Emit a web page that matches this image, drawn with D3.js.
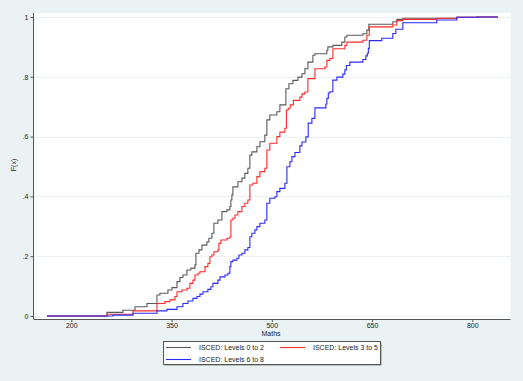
<!DOCTYPE html>
<html>
<head>
<meta charset="utf-8">
<style>
  body { margin: 0; background: #eaf2f3; }
  text { font-family: "Liberation Sans", Arial, sans-serif; fill: #222; }
  .tick text { font-size: 7px; }
  .tick line { stroke: #555; }
  .domain { stroke: #555; }
</style>
</head>
<body>
<script src="https://d3js.org/d3.v7.min.js"></script>
<script>
// step points: score where the step happens, new F(x)
var low = [
  [163.7, 0], [253.4, 0.012], [277.3, 0.019], [295.3, 0.031], [313.2, 0.042], [328.2, 0.070],
  [332.7, 0.076], [344.6, 0.087], [350.6, 0.095], [358.1, 0.115], [362.6, 0.129], [367.0, 0.137],
  [373.0, 0.154], [379.0, 0.160], [385.0, 0.171], [386.5, 0.210], [391.0, 0.221], [395.5, 0.237],
  [402.9, 0.248], [405.9, 0.260], [410.4, 0.277], [413.4, 0.310], [419.4, 0.321], [425.4, 0.349],
  [432.8, 0.355], [437.3, 0.366], [438.8, 0.388], [440.3, 0.405], [441.8, 0.432], [449.3, 0.449],
  [455.3, 0.461], [459.7, 0.477], [464.2, 0.494], [467.2, 0.538], [470.2, 0.549], [477.7, 0.566],
  [482.2, 0.583], [489.6, 0.605], [492.6, 0.656], [497.1, 0.672], [507.6, 0.683], [512.1, 0.706],
  [521.1, 0.760], [525.6, 0.777], [531.6, 0.788], [539.1, 0.799], [545.1, 0.810], [549.5, 0.827],
  [554.0, 0.849], [561.5, 0.872], [564.5, 0.877], [582.4, 0.889], [583.9, 0.900], [591.4, 0.905],
  [604.8, 0.916], [609.3, 0.933], [612.3, 0.939], [636.2, 0.944], [642.2, 0.956], [645.2, 0.976],
  [681.1, 0.984], [687.1, 0.992], [696.1, 0.996], [776.9, 0.999], [806.8, 1], [838.2, 1]
];
var mid = [
  [163.7, 0], [253.4, 0.006], [292.3, 0.017], [328.2, 0.042], [340.1, 0.048], [347.6, 0.054],
  [355.1, 0.065], [358.1, 0.081], [365.6, 0.087], [373.0, 0.093], [377.5, 0.109], [382.0, 0.120],
  [385.0, 0.137], [389.5, 0.143], [392.5, 0.148], [400.0, 0.165], [404.4, 0.176], [407.4, 0.198],
  [410.4, 0.204], [413.4, 0.215], [419.4, 0.221], [420.9, 0.243], [423.9, 0.254], [432.8, 0.260],
  [437.3, 0.265], [438.8, 0.321], [441.8, 0.327], [444.8, 0.338], [449.3, 0.349], [455.3, 0.366],
  [459.7, 0.377], [464.2, 0.388], [467.2, 0.438], [471.7, 0.444], [477.7, 0.466], [482.2, 0.483],
  [489.6, 0.494], [492.6, 0.555], [497.1, 0.578], [507.6, 0.600], [512.1, 0.615], [519.6, 0.628],
  [521.9, 0.689], [524.6, 0.695], [527.6, 0.706], [532.3, 0.721], [542.0, 0.732], [545.1, 0.743],
  [549.5, 0.749], [554.0, 0.794], [564.5, 0.827], [579.4, 0.833], [582.4, 0.855], [586.9, 0.861],
  [591.4, 0.894], [609.3, 0.905], [612.3, 0.916], [636.2, 0.922], [642.2, 0.939], [645.9, 0.967],
  [681.1, 0.973], [687.1, 0.988], [696.1, 0.992], [746.9, 0.996], [776.9, 0.999], [806.8, 1], [838.2, 1]
];
var high = [
  [163.7, 0], [262.4, 0.003], [292.3, 0.009], [328.2, 0.017], [343.1, 0.022], [358.1, 0.031],
  [367.0, 0.042], [374.5, 0.050], [382.0, 0.059], [388.0, 0.065], [392.5, 0.073], [397.0, 0.081],
  [404.4, 0.089], [408.9, 0.098], [411.9, 0.109], [419.4, 0.120], [422.4, 0.131], [429.9, 0.137],
  [434.3, 0.143], [437.3, 0.165], [438.8, 0.182], [441.8, 0.187], [447.8, 0.193], [450.8, 0.204],
  [455.3, 0.210], [459.7, 0.221], [464.2, 0.229], [467.2, 0.265], [470.2, 0.277], [474.7, 0.288],
  [477.7, 0.299], [482.2, 0.310], [489.6, 0.321], [492.6, 0.377], [497.1, 0.394], [504.6, 0.399],
  [507.6, 0.416], [512.1, 0.427], [519.6, 0.444], [522.6, 0.499], [527.1, 0.516], [530.1, 0.533],
  [534.6, 0.547], [542.0, 0.569], [545.1, 0.582], [551.0, 0.599], [554.5, 0.645], [560.0, 0.661],
  [564.5, 0.696], [580.9, 0.709], [582.4, 0.728], [584.6, 0.746], [586.9, 0.750], [591.4, 0.789],
  [597.4, 0.799], [606.3, 0.809], [609.3, 0.823], [611.6, 0.838], [616.8, 0.849], [636.2, 0.858],
  [640.7, 0.870], [643.0, 0.879], [644.5, 0.895], [645.9, 0.921], [664.6, 0.929], [681.1, 0.945],
  [685.6, 0.959], [696.1, 0.981], [746.9, 0.990], [776.9, 0.999], [806.8, 1], [838.2, 1]
];
var seriesNames = ["ISCED: Levels 0 to 2", "ISCED: Levels 3 to 5", "ISCED: Levels 6 to 8"];
var xTicks = [200, 350, 500, 650, 800];
var yTicks = [0, 0.2, 0.4, 0.6, 0.8, 1];
var yTickLabels = ["0", ".2", ".4", ".6", ".8", "1"];

var width = 523, height = 381;
var colors = ["#5a5a5a", "#ff2a2a", "#2a2aff"];

var x = d3.scaleLinear().domain([200, 800]).range([71.3, 472.3]);
var y = d3.scaleLinear().domain([0, 1]).range([316, 17]);

var svg = d3.select("body").append("svg")
    .attr("width", width)
    .attr("height", height);

svg.append("rect").attr("width", width).attr("height", height).attr("fill", "#eaf2f3");

// plot region
svg.append("rect")
    .attr("x", 33.5).attr("y", 13)
    .attr("width", 477).attr("height", 306)
    .attr("fill", "#fff");

// grid
svg.selectAll(".grid")
    .data(yTicks)
    .enter().append("line")
    .attr("x1", 34).attr("x2", 510.5)
    .attr("y1", function(d) { return Math.round(y(d)) + 0.5; })
    .attr("y2", function(d) { return Math.round(y(d)) + 0.5; })
    .attr("stroke", "#edf2f3");

// x axis
var xAxis = svg.append("g")
    .attr("transform", "translate(0,319)")
    .call(d3.axisBottom(x).tickValues(xTicks).tickSize(3).tickSizeOuter(0).tickFormat(d3.format("d")));
xAxis.select(".domain").attr("d", "M33.5,0.5H510.5");
xAxis.selectAll(".tick text").attr("dy", "0.9em").attr("y", 3);

// y axis
var yAxis = svg.append("g")
    .attr("transform", "translate(33.5,0)")
    .call(d3.axisLeft(y).tickValues(yTicks).tickSize(3).tickSizeOuter(0)
        .tickFormat(function(d, i) { return yTickLabels[i]; }));
yAxis.select(".domain").attr("d", "M0,13V319");
yAxis.selectAll(".tick text").attr("x", -5);

// axis titles
svg.append("text")
    .attr("x", 271).attr("y", 335.5)
    .attr("text-anchor", "middle")
    .style("font-size", "7px")
    .text("Maths");
svg.append("text")
    .attr("transform", "translate(16,165) rotate(-90)")
    .attr("text-anchor", "middle")
    .style("font-size", "7px")
    .text("F(x)");

// cdf step lines
var line = d3.line()
    .x(function(d) { return x(d[0]); })
    .y(function(d) { return y(d[1]); })
    .curve(d3.curveStepAfter);

[low, mid, high].forEach(function(s, i) {
    svg.append("path")
        .datum(s)
        .attr("fill", "none")
        .attr("stroke", colors[i])
        .attr("stroke-width", 1.1)
        .attr("d", line);
});

// legend
var lg = svg.append("g");
lg.append("rect")
    .attr("x", 164.5).attr("y", 342.5)
    .attr("width", 217).attr("height", 23)
    .attr("fill", "#888");
lg.append("rect")
    .attr("x", 163.5).attr("y", 341.5)
    .attr("width", 217).attr("height", 23)
    .attr("fill", "#fff")
    .attr("stroke", "#555");

var legendPos = [[166, 347], [280, 347], [166, 359]];
seriesNames.forEach(function(name, i) {
    var p = legendPos[i];
    lg.append("line")
        .attr("x1", p[0]).attr("x2", p[0] + 25)
        .attr("y1", p[1] + 0.5).attr("y2", p[1] + 0.5)
        .attr("stroke", colors[i]).attr("stroke-width", 1.1);
    lg.append("text")
        .attr("x", p[0] + 33).attr("y", p[1] + 2.5)
        .style("font-size", "7px")
        .text(name);
});
</script>
</body>
</html>
